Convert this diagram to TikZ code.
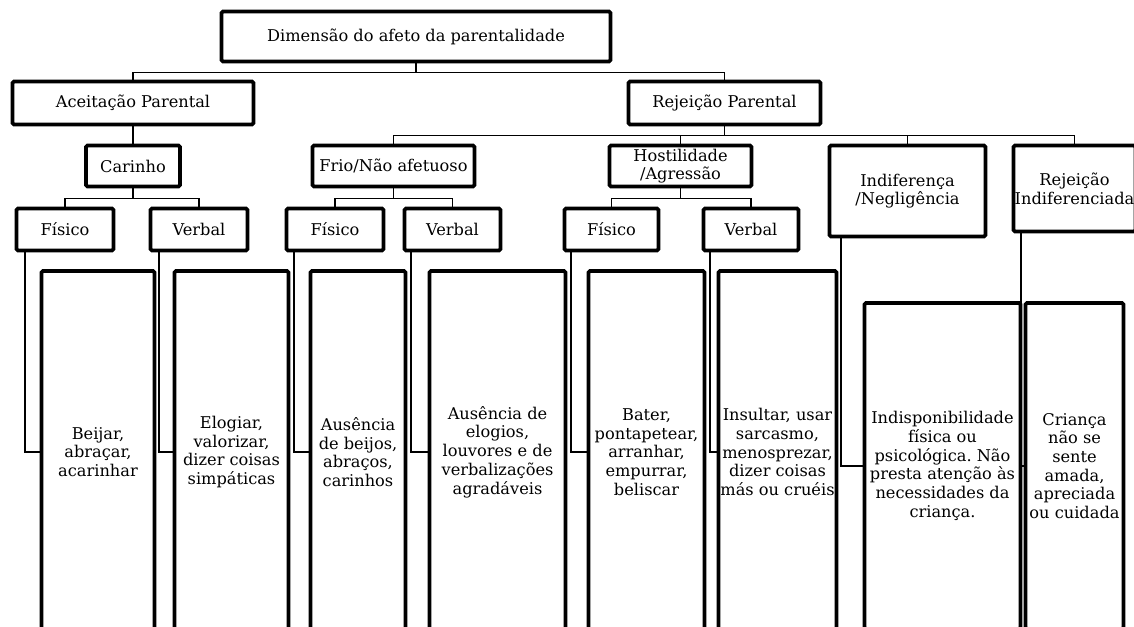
\documentclass[tikz,border=0pt]{standalone}
\usepackage{fontspec}
\setmainfont{DejaVu Serif}
\begin{document}
\frenchspacing
\begin{tikzpicture}[x=1pt,y=-1pt,
  box/.style={draw=black, line width=3.6pt, rounded corners=1.5pt, fill=white, align=center, inner sep=1pt,
    font=\fontsize{16.2}{18.7}\selectfont},
  conn/.style={draw=black, line width=1.5pt}]
\useasboundingbox (0,0) rectangle (1134,626);
\clip (0,0) rectangle (1134,626);
\fill[white] (0,0) rectangle (1134,626);
% level 0-1
\node[box, minimum width=389pt, minimum height=50pt] (dim) at (416,36.5) {Dimensão do afeto da parentalidade};
\node[box, minimum width=241pt, minimum height=43pt] (acc) at (133,103) {Aceitação Parental};
\node[box, minimum width=192pt, minimum height=43pt] (rej) at (724.5,103) {Rejeição Parental};
% level 2
\node[box, minimum width=94pt, minimum height=41pt] (car) at (133,166) {Carinho};
\node[box, minimum width=162pt, minimum height=41pt] (frio) at (393.5,166) {Frio/Não afetuoso};
\node[box, minimum width=142pt, minimum height=41pt] (host) at (680.5,166) {Hostilidade\\/Agressão};
\node[box, minimum width=156pt, minimum height=91pt] (ind) at (907.5,191) {Indiferença\\/Negligência};
\node[box, minimum width=122pt, minimum height=86pt] (ri) at (1074.5,188.5) {Rejeição\\Indiferenciada};
% level 3
\node[box, minimum width=97pt, minimum height=42pt] (f1) at (65,229.5) {Físico};
\node[box, minimum width=97pt, minimum height=42pt] (v1) at (199,229.5) {Verbal};
\node[box, minimum width=97pt, minimum height=42pt] (f2) at (335,229.5) {Físico};
\node[box, minimum width=96pt, minimum height=42pt] (v2) at (452.5,229.5) {Verbal};
\node[box, minimum width=94pt, minimum height=42pt] (f3) at (611.5,229.5) {Físico};
\node[box, minimum width=95pt, minimum height=42pt] (v3) at (751,229.5) {Verbal};
% leaves
\node[box, minimum width=113pt, minimum height=362pt] (l1) at (98,452) {Beijar,\\abraçar,\\acarinhar};
\node[box, minimum width=114pt, minimum height=362pt] (l2) at (231.5,452) {Elogiar,\\valorizar,\\dizer coisas\\simpáticas};
\node[box, minimum width=95pt, minimum height=362pt] (l3) at (358,452) {Ausência\\de beijos,\\abraços,\\carinhos};
\node[box, minimum width=136pt, minimum height=362pt] (l4) at (497.5,452) {Ausência de\\elogios,\\louvores e de\\verbalizações\\agradáveis};
\node[box, minimum width=116pt, minimum height=362pt] (l5) at (646.5,452) {Bater,\\pontapetear,\\arranhar,\\empurrar,\\beliscar};
\node[box, minimum width=118pt, minimum height=362pt] (l6) at (777.5,452) {Insultar, usar\\sarcasmo,\\menosprezar,\\dizer coisas\\más ou cruéis};
\node[box, minimum width=156pt, minimum height=326pt] (l7) at (942.5,466) {Indisponibilidade\\física ou\\psicológica. Não\\presta atenção às\\necessidades da\\criança.};
\node[box, minimum width=98pt, minimum height=326pt] (l8) at (1074.5,466) {Criança\\não se\\sente\\amada,\\apreciada\\ou cuidada};
% connectors
\draw[conn] (dim.south) -- ++(0,9) -| (acc.north);
\draw[conn] (dim.south) -- ++(0,9) -| (rej.north);
\draw[conn] (acc.south) -- (car.north);
\draw[conn] (rej.south) -- ++(0,9) -| (frio.north);
\draw[conn] (rej.south) -- ++(0,9) -| (host.north);
\draw[conn] (rej.south) -- ++(0,9) -| (ind.north);
\draw[conn] (rej.south) -- ++(0,9) -| (ri.north);
\draw[conn] (car.south) -- ++(0,10) -| (f1.north);
\draw[conn] (car.south) -- ++(0,10) -| (v1.north);
\draw[conn] (frio.south) -- ++(0,10) -| (f2.north);
\draw[conn] (frio.south) -- ++(0,10) -| (v2.north);
\draw[conn] (host.south) -- ++(0,10) -| (f3.north);
\draw[conn] (host.south) -- ++(0,10) -| (v3.north);
\draw[conn] ([xshift=10.5pt]f1.south west) |- (l1.west);
\draw[conn] ([xshift=10.5pt]v1.south west) |- (l2.west);
\draw[conn] ([xshift=9.5pt]f2.south west) |- (l3.west);
\draw[conn] ([xshift=8.5pt]v2.south west) |- (l4.west);
\draw[conn] ([xshift=8.5pt]f3.south west) |- (l5.west);
\draw[conn] ([xshift=8.5pt]v3.south west) |- (l6.west);
\draw[conn] ([xshift=13.5pt]ind.south west) |- (l7.west);
\draw[conn] ([xshift=9.5pt]ri.south west) |- (l8.west);
\end{tikzpicture}
\end{document}
